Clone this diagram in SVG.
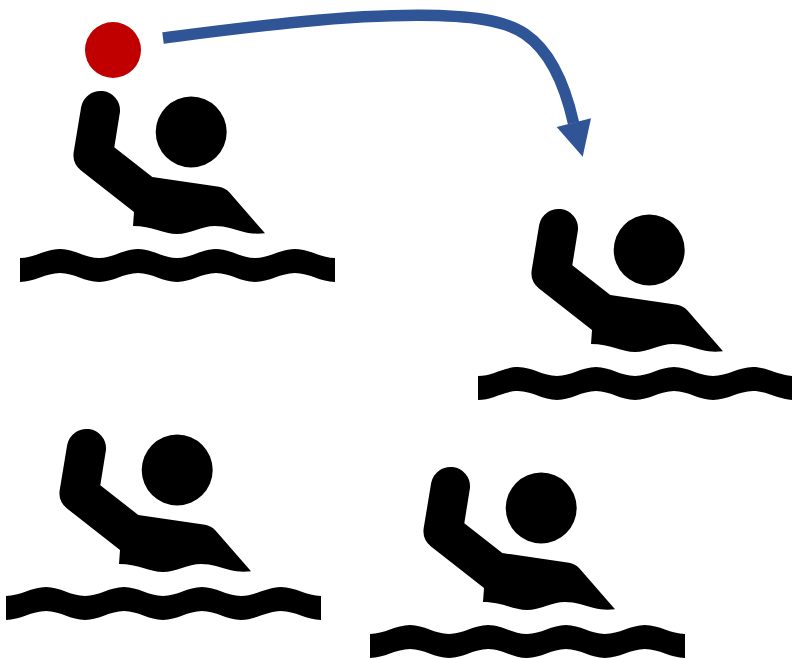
<svg xmlns="http://www.w3.org/2000/svg" width="792" height="659" viewBox="0 0 792 659">
  <style>
    .ink { fill: #000; }
    .link { fill: none; stroke: #2F5597; stroke-width: 11.5; }
  </style>
  <defs>
    <marker id="head" markerUnits="userSpaceOnUse" markerWidth="50" markerHeight="50" refX="20" refY="8" orient="0">
      <path d="M3.2 12 L29.2 41.7 L37.5 3.3 Z" fill="#2F5597"/>
    </marker>
    <g id="swimmer">
      <circle class="ink" cx="191.2" cy="132" r="35.5"/>
      <path class="ink" d="M81.2 106.8 A19.6 19.6 0 0 1 120 111.8 L114.3 147.3 L152.3 177 L219 186.8 Q225 187.8 229.5 192.5 L265 233.3 C257 234 251 233.8 244 232 C234 229.5 226 226 215 226 C202 226 190 234 177 234 C164 234 152 226 133 226 L134 212 L81 170.5 Q72 163 73.7 152 Z"/>
      <path class="ink" d="M20 258 C34 258 46 249 60 249 C74 249 85 258 99 258 C113 258 124 249 138 249 C152 249 163 258 177 258 C191 258 202 249 216 249 C230 249 241 258 255 258 C269 258 281 249 295 249 C309 249 321 258 335 258 L335 282 C321 282 309 273 295 273 C281 273 269 282 255 282 C241 282 230 273 216 273 C202 273 191 282 177 282 C163 282 152 273 138 273 C124 273 113 282 99 282 C85 282 74 273 60 273 C46 273 34 282 20 282 Z"/>
    </g>
  </defs>
  <g id="connectors">
    <path class="link" d="M163 38 C250 27 340 15 420 15.3 C470 15.5 505 20 525 34 C550 51 565 85 573.5 123" marker-end="url(#head)"/>
  </g>
  <g id="ball"><circle cx="113" cy="50" r="28" fill="#C00000"/></g>
  <g id="player-1"><use href="#swimmer"/></g>
  <g id="player-2"><use href="#swimmer" x="458" y="118"/></g>
  <g id="player-3"><use href="#swimmer" x="-14" y="338"/></g>
  <g id="player-4"><use href="#swimmer" x="350" y="376"/></g>
</svg>
